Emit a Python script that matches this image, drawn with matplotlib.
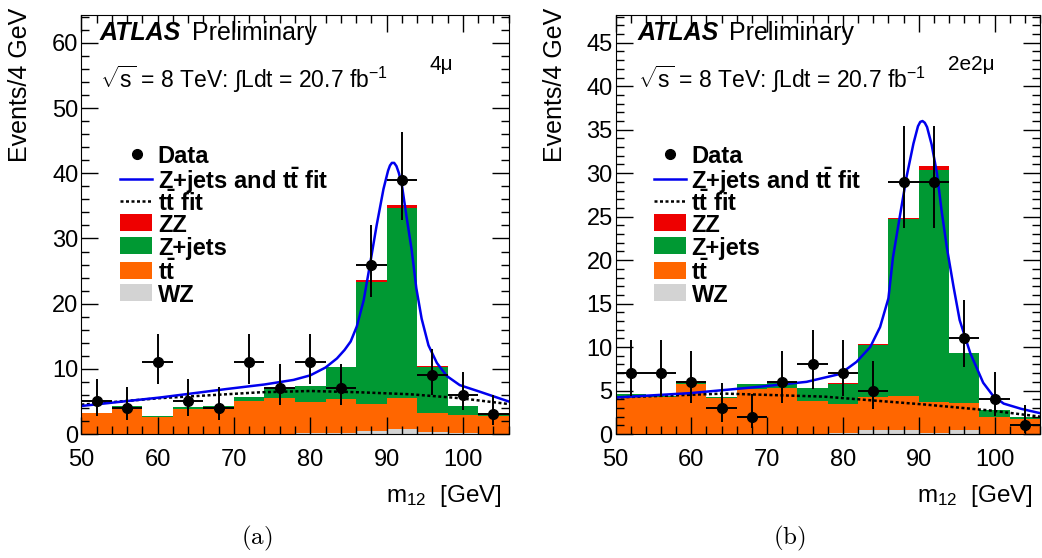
import numpy as np
import matplotlib
matplotlib.use('Agg')
import matplotlib.pyplot as plt
from matplotlib.ticker import MultipleLocator
from matplotlib.patches import Rectangle
from matplotlib.lines import Line2D

plt.rcParams['font.family'] = ['Liberation Sans', 'DejaVu Sans']
plt.rcParams['mathtext.fontset'] = 'custom'
plt.rcParams['mathtext.rm'] = 'Liberation Sans'
plt.rcParams['mathtext.it'] = 'Liberation Sans:italic'
plt.rcParams['mathtext.bf'] = 'Liberation Sans:bold'

# bins of m12 (4 GeV)
bin_edges = [50, 54, 58, 62, 66, 70, 74, 78, 82, 86, 90, 94, 98, 102, 106]
bin_centers = [52, 56, 60, 64, 68, 72, 76, 80, 84, 88, 92, 96, 100, 104]

# ---- (a) 4mu ----
data_4mu = [5, 4, 11, 5, 4, 11, 7, 11, 7, 26, 39, 9, 6, 3]
elo_4mu = [2.16, 1.91, 3.27, 2.16, 1.91, 3.27, 2.58, 3.27, 2.58, 5.05, 6.2, 2.94, 2.38, 1.63]
ehi_4mu = [3.38, 3.16, 4.42, 3.38, 3.16, 4.42, 3.77, 4.42, 3.77, 6.1, 7.3, 4.11, 3.58, 2.92]
wz_4mu = [0.05, 0.05, 0.05, 0.05, 0.05, 0.05, 0.05, 0.1, 0.1, 0.5, 0.7, 0.3, 0.1, 0.05]
tt_4mu = [3.15, 3.9, 2.55, 3.75, 3.85, 5.05, 5.55, 4.8, 5.2, 4.1, 4.8, 2.9, 2.8, 2.75]
zjets_4mu = [0.1, 0.35, 0.1, 0.35, 0.4, 0.6, 1.4, 2.5, 5.0, 18.8, 29.2, 7.1, 1.45, 0.2]
zz_4mu = [0, 0, 0, 0, 0, 0, 0.02, 0.03, 0.05, 0.25, 0.4, 0.1, 0.02, 0]
fit_x_4mu = [50, 60.3, 69.0, 74.0, 77.8, 80.0, 82.0, 83.5, 84.5, 85.3, 86.1, 87.0, 87.8, 88.7,
             89.6, 90.2, 90.45, 90.7, 91.0, 91.3, 91.6, 92.0, 92.6, 93.3, 93.9, 94.6, 95.5,
             96.6, 97.9, 99.6, 102.2, 106]
fit_y_4mu = [4.3, 5.6, 6.9, 7.6, 8.3, 9.0, 10.2, 11.6, 12.9, 14.2, 16.5, 20.5, 25.8, 32.0,
             37.6, 40.4, 41.2, 41.6, 41.6, 41.1, 40.1, 38.3, 33.5, 28.2, 22.4, 17.7, 13.6,
             10.9, 8.9, 7.5, 6.5, 5.0]
ttfit_x_4mu = [50, 60.3, 73.4, 80.0, 86.5, 93.1, 99.6, 106]
ttfit_y_4mu = [4.5, 5.5, 6.4, 6.6, 6.4, 6.1, 5.5, 4.6]

# ---- (b) 2e2mu ----
data_2e2mu = [7, 7, 6, 3, 2, 6, 8, 7, 5, 29, 29, 11, 4, 1]
elo_2e2mu = [2.58, 2.58, 2.38, 1.63, 1.29, 2.38, 2.77, 2.58, 2.16, 5.35, 5.35, 3.27, 1.91, 0.83]
ehi_2e2mu = [3.77, 3.77, 3.58, 2.92, 2.64, 3.58, 3.95, 3.77, 3.38, 6.44, 6.44, 4.42, 3.16, 2.30]
wz_2e2mu = [0.05, 0.05, 0.05, 0.05, 0.05, 0.05, 0.05, 0.1, 0.5, 0.5, 0.15, 0.45, 0.05, 0.05]
tt_2e2mu = [4.15, 4.15, 5.65, 4.05, 5.15, 5.25, 3.75, 3.3, 3.7, 3.9, 3.55, 3.15, 1.85, 1.65]
zjets_2e2mu = [0.45, 0.15, 0.3, 0.2, 0.5, 0.6, 1.5, 2.4, 6.0, 20.3, 26.7, 5.7, 0.85, 0.3]
zz_2e2mu = [0, 0, 0.05, 0, 0, 0.02, 0, 0.02, 0.1, 0.2, 0.4, 0.05, 0.02, 0]
fit_x_2e2mu = [50, 59.8, 68.6, 75.2, 79.6, 81.8, 83.6, 84.9, 86.0, 86.6, 87.5, 88.4, 89.3, 89.9,
               90.2, 90.5, 90.8, 91.1, 91.7, 92.4, 93.0, 93.7, 94.6, 95.4, 96.8, 98.5, 99.8,
               101.2, 103.5, 106]
fit_y_2e2mu = [4.2, 4.7, 5.4, 6.0, 6.9, 8.3, 10.0, 12.3, 15.6, 20.3, 25.0, 29.6, 33.4, 35.4,
               35.9, 36.0, 35.8, 35.3, 33.3, 30.0, 25.8, 21.5, 16.9, 13.1, 9.3, 5.9, 4.4,
               3.5, 2.9, 2.4]
ttfit_x_2e2mu = [50, 64.3, 77.5, 90.7, 99.5, 106]
ttfit_y_2e2mu = [4.2, 4.65, 4.3, 3.4, 2.7, 2.0]

c_wz = '#d3d3d3'
c_tt = '#ff6600'
c_zj = '#009933'
c_zz = '#ee0000'
c_fit = '#0000ee'
dots = (0, (1.2, 1.0))

fig = plt.figure(figsize=(10.42, 5.58), dpi=100)
ax_a = fig.add_axes([0.0781, 0.2222, 0.410, 0.751])
ax_b = fig.add_axes([0.5907, 0.2222, 0.4074, 0.751])


def draw_panel(ax, data, elo, ehi, wz, tt, zj, zz, fx, fy, tx, ty, ymax, ymaj, ymin,
               chan, tag, dx):
    bottom = np.zeros(len(wz))
    for comp, col in [(wz, c_wz), (tt, c_tt), (zj, c_zj), (zz, c_zz)]:
        top = bottom + np.array(comp)
        ax.stairs(top, bin_edges, baseline=bottom, fill=True, color=col, lw=0)
        bottom = top
    ax.plot(tx, ty, color='k', lw=1.8, ls=dots)
    ax.plot(fx, fy, color=c_fit, lw=1.8)
    ax.errorbar(bin_centers, data, yerr=[elo, ehi], xerr=2, fmt='o', color='k',
                ms=7, elinewidth=1.4, capsize=0)

    ax.set_xlim(50, 106)
    ax.set_ylim(0, ymax)
    ax.xaxis.set_major_locator(MultipleLocator(10))
    ax.xaxis.set_minor_locator(MultipleLocator(2))
    ax.yaxis.set_major_locator(MultipleLocator(ymaj))
    ax.yaxis.set_minor_locator(MultipleLocator(ymin))
    ax.tick_params(which='both', direction='in', top=True, right=True, width=1)
    ax.tick_params(which='major', length=12)
    ax.tick_params(which='minor', length=6)
    ax.tick_params(axis='x', labelsize=17, pad=11)
    ax.tick_params(axis='y', labelsize=17, pad=2)

    ax.text(-0.143, 1.017, 'Events/4 GeV', rotation=90, ha='center', va='top',
            fontsize=18, transform=ax.transAxes)
    ax.text(0.983, -0.163, r'm$_{12}$  [GeV]', ha='right', va='baseline',
            fontsize=17.5, transform=ax.transAxes)

    ax.text(dx, 0.94, 'ATLAS', fontsize=18, fontweight='bold', fontstyle='italic',
            transform=ax.transAxes)
    ax.text(dx + 0.215, 0.94, 'Preliminary', fontsize=18, transform=ax.transAxes)
    ax.text(dx, 0.826, r'$\sqrt{\rm s}$ = 8 TeV: $\int$Ldt = 20.7 fb$^{-1}$',
            fontsize=16.5, transform=ax.transAxes)
    ax.text(chan[0], 0.869, chan[1], fontsize=15, transform=ax.transAxes)

    # legend
    rows = [0.668, 0.609, 0.556, 0.504, 0.449, 0.391, 0.337]
    labels = ['Data', r'Z+jets and t$\mathbf{\bar{t}}$ fit', r't$\mathbf{\bar{t}}$ fit',
              'ZZ', 'Z+jets', r't$\mathbf{\bar{t}}$', 'WZ']
    x0, x1 = 0.090, 0.165
    ax.add_line(Line2D([0.1295], [rows[0]], marker='o', ms=7, color='k',
                       transform=ax.transAxes))
    ax.add_line(Line2D([x0, x1], [rows[1], rows[1]], color=c_fit, lw=1.8,
                       transform=ax.transAxes))
    ax.add_line(Line2D([x0, x1], [rows[2], rows[2]], color='k', lw=1.8, ls=dots,
                       transform=ax.transAxes))
    for r, col in zip(rows[3:], [c_zz, c_zj, c_tt, c_wz]):
        ax.add_patch(Rectangle((x0, r - 0.02), x1 - x0, 0.04, color=col, lw=0,
                               transform=ax.transAxes))
    for r, lab in zip(rows, labels):
        ax.text(0.179, r - 0.006, lab, fontsize=17, fontweight='bold', va='center',
                transform=ax.transAxes)

    fig.text(ax.get_position().x0 + 0.41 * ax.get_position().width, 0.025, tag,
             fontsize=18, ha='center', va='baseline', math_fontfamily='cm')


draw_panel(ax_a, data_4mu, elo_4mu, ehi_4mu, wz_4mu, tt_4mu, zjets_4mu, zz_4mu,
           fit_x_4mu, fit_y_4mu, ttfit_x_4mu, ttfit_y_4mu, 64.3, 10, 2,
           (0.816, '4\u03bc'), r'$\mathrm{(a)}$', 0.0435)
draw_panel(ax_b, data_2e2mu, elo_2e2mu, ehi_2e2mu, wz_2e2mu, tt_2e2mu, zjets_2e2mu, zz_2e2mu,
           fit_x_2e2mu, fit_y_2e2mu, ttfit_x_2e2mu, ttfit_y_2e2mu, 48.2, 5, 1,
           (0.783, '2e2\u03bc'), r'$\mathrm{(b)}$', 0.053)

fig.savefig('out.png', dpi=100)
